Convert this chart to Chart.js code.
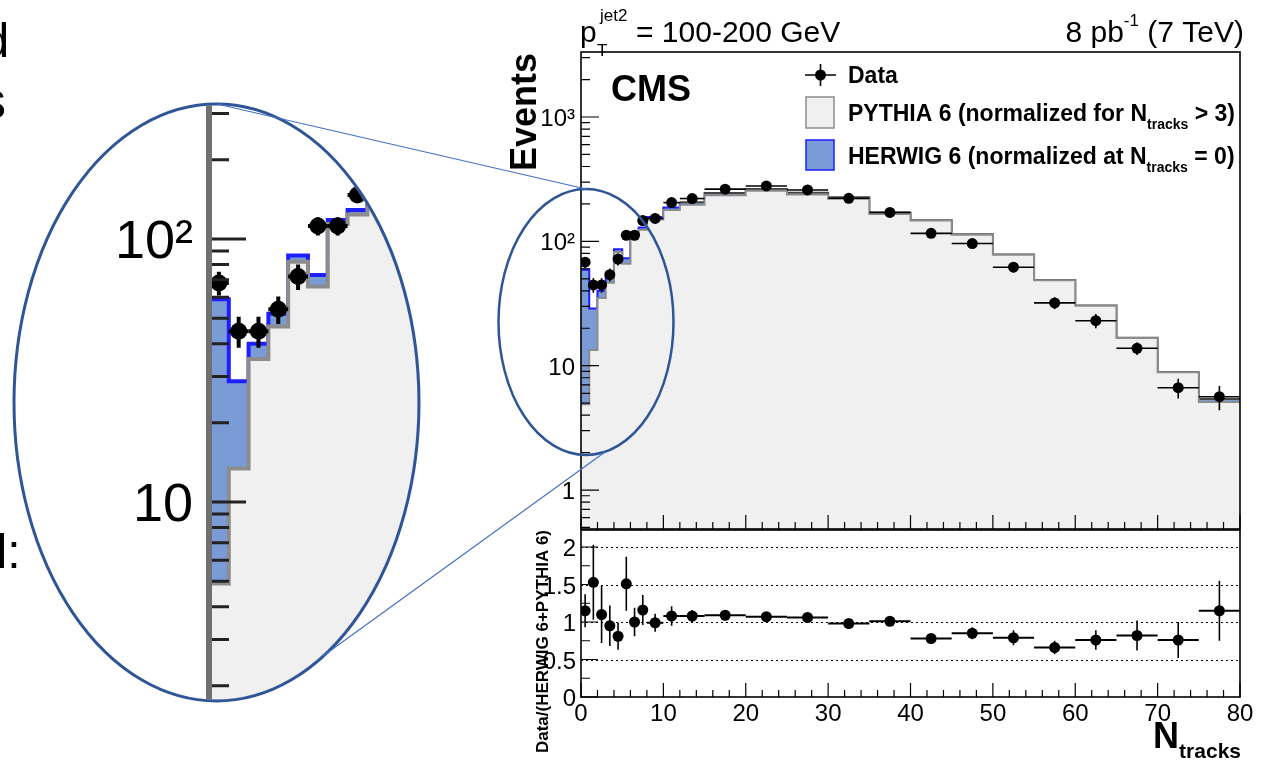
<!DOCTYPE html>
<html>
<head>
<meta charset="utf-8">
<title>N tracks, pT jet2 100-200 GeV</title>
<script src="https://cdn.jsdelivr.net/npm/chart.js@4.4.1/dist/chart.umd.min.js"></script>
<style>
  html, body { margin:0; padding:0; background:#fff; }
  #page { position:relative; width:1263px; height:763px; overflow:hidden; }
  #page canvas { position:absolute; left:0; top:0; }
</style>
</head>
<body>
<div id="page">
  <canvas id="inset" width="1263" height="763"></canvas>
  <canvas id="upper" width="1263" height="763"></canvas>
  <canvas id="lower" width="1263" height="763"></canvas>
</div>
<script>
// bin edges of the N_tracks histogram (variable width bins)
const binEdges = [0,1,2,3,4,5,6,7,8,10,12,15,20,25,30,35,40,45,50,55,60,65,70,75,80];

// data, events per bin, and its error
const dataEvents = [68,44.6,44.6,54,72,112,112,147,153,205,221,263,279,259,222,171,116,96,62,32,23,13.8,6.65,5.63];
const dataErr    = [7,6,6,6.5,8,9,9,10,10,12,12,10,10,10,10,9,8,7,5.5,3.5,3,1.6,1.2,1.25];

// HERWIG 6 + PYTHIA 6 stacked total, and PYTHIA 6 alone
const mcTotal    = [59,28.8,40,52,86.5,73,118,129,157,187,206,245,264,246,226,170,148,114,78.5,49,30.5,16.8,8.9,5.4];
const pythiaOnly = [4.9,13.4,35,46.5,82,66,114,124,150,179,197,235,255,238,220,166,147,113,78,48.7,30.3,16.7,8.85,5.1];

// Data/(HERWIG 6+PYTHIA 6)
const ratioVals = [1.15,1.53,1.10,0.95,0.81,1.51,1.00,1.16,0.99,1.08,1.08,1.09,1.07,1.06,0.98,1.01,0.78,0.85,0.79,0.66,0.76,0.82,0.76,1.15];
const ratioErr  = [0.22,0.5,0.38,0.27,0.18,0.36,0.19,0.2,0.12,0.13,0.08,0.04,0.03,0.03,0.04,0.04,0.06,0.08,0.1,0.09,0.13,0.2,0.24,0.4];

// tick labels
const xTickVals    = [0,10,20,30,40,50,60,70,80];
const upperYTicks  = [1,10,100,1000];
const upperYLabels = ['1','10','10²','10³'];
const insetYTicks  = [10,100];
const insetYLabels = ['10','10²'];
const ratioYTicks  = [0,0.5,1,1.5,2];
const ratioYLabels = ['0','0.5','1','1.5','2'];

// magnifier ellipses (page pixels)
const lensBig   = {cx:216.5, cy:402.5, rx:202.5, ry:298.5};
const lensSmall = {cx:586, cy:322, rx:87.5, ry:133};

const FONT = '"Liberation Sans", Arial, Helvetica, sans-serif';
const fnt = (size, bold) => (bold ? 'bold ' : '') + size + 'px ' + FONT;

const centres = binEdges.slice(0, -1).map((e, i) => (e + binEdges[i + 1]) / 2);
const stepData = vals => vals.map((v, i) => ({x: binEdges[i], y: v}))
  .concat([{x: binEdges[binEdges.length - 1], y: vals[vals.length - 1]}]);
const pointData = vals => vals.map((v, i) => ({x: centres[i], y: v}));

function logMinor(min, max) {
  const out = [];
  for (let e = -1; e <= 4; e++) {
    for (let m = 2; m <= 9; m++) {
      const v = m * Math.pow(10, e);
      if (v > min && v < max) out.push(v);
    }
  }
  return out;
}

// text with sub/superscript pieces: [text, size, bold, dy]
function rich(ctx, parts, x, y, align) {
  let w = 0;
  parts.forEach(p => { ctx.font = fnt(p[1], p[2]); w += ctx.measureText(p[0]).width; });
  let cx = align === 'right' ? x - w : x;
  ctx.textAlign = 'left';
  ctx.textBaseline = 'alphabetic';
  parts.forEach(p => {
    ctx.font = fnt(p[1], p[2]);
    ctx.fillText(p[0], cx, y + (p[3] || 0));
    cx += ctx.measureText(p[0]).width;
  });
}

function ellipsePath(ctx, e, off) {
  ctx.beginPath();
  ctx.ellipse(e.cx, e.cy, e.rx + off, e.ry + off, 0, 0, Math.PI * 2);
}

function drawErrorBars(chart, hW, vW) {
  const {ctx, chartArea: a, scales: {x, y}} = chart;
  chart.data.datasets.forEach(ds => {
    if (!ds.errY) return;
    ctx.save();
    ctx.beginPath();
    ctx.rect(a.left, a.top, a.right - a.left, a.bottom - a.top);
    ctx.clip();
    ctx.strokeStyle = '#000';
    ds.data.forEach((p, i) => {
      const px = x.getPixelForValue(p.x), py = y.getPixelForValue(p.y);
      ctx.lineWidth = hW;
      ctx.beginPath();
      ctx.moveTo(x.getPixelForValue(binEdges[i]), py);
      ctx.lineTo(x.getPixelForValue(binEdges[i + 1]), py);
      ctx.stroke();
      ctx.lineWidth = vW;
      ctx.beginPath();
      ctx.moveTo(px, y.getPixelForValue(p.y + ds.errY[i]));
      ctx.lineTo(px, y.getPixelForValue(Math.max(p.y - ds.errY[i], 0.001)));
      ctx.stroke();
    });
    ctx.restore();
  });
}

function histDatasets(lw, radius) {
  return [
    {type: 'scatter', label: 'Data', data: pointData(dataEvents), errY: dataErr,
     pointRadius: radius, pointBackgroundColor: '#000', pointBorderWidth: 0, order: 0},
    {type: 'line', label: 'PYTHIA 6', data: stepData(pythiaOnly), stepped: true,
     borderColor: '#8c8c8c', borderWidth: lw, backgroundColor: '#f0f0f0', fill: 'start',
     pointRadius: 0, order: 1},
    {type: 'line', label: 'HERWIG 6', data: stepData(mcTotal), stepped: true,
     borderColor: '#1e1eff', borderWidth: lw, backgroundColor: '#7b9bd6', fill: 'start',
     segment: {borderColor: c => binEdges[c.p0DataIndex] >= 12 ? '#444' : '#1e1eff'},
     pointRadius: 0, order: 2}
  ];
}

function baseOptions(pad, xr, yScale) {
  return {
    responsive: false, animation: false, events: [],
    layout: {padding: pad},
    plugins: {legend: {display: false}, tooltip: {enabled: false}},
    scales: {
      x: {type: 'linear', min: xr[0], max: xr[1], bounds: 'data', display: false},
      y: Object.assign({display: false, bounds: 'data'}, yScale)
    }
  };
}

// ---------- upper panel ----------
const upperDeco = {
  id: 'upperDeco',
  afterDatasetsDraw(chart) { drawErrorBars(chart, 1.6, 1.6); },
  afterDraw(chart) {
    const {ctx, chartArea: a, scales: {x, y}} = chart;
    ctx.save();
    ctx.strokeStyle = '#000';
    ctx.lineWidth = 1.2;
    ctx.beginPath();
    for (let v = 0; v <= 80; v += 2) {
      const px = x.getPixelForValue(v), len = v % 10 === 0 ? 14 : 7;
      ctx.moveTo(px, a.bottom); ctx.lineTo(px, a.bottom - len);
    }
    logMinor(y.min, y.max).forEach(v => {
      const py = y.getPixelForValue(v);
      ctx.moveTo(a.left, py); ctx.lineTo(a.left + 9, py);
    });
    upperYTicks.forEach(v => {
      const py = y.getPixelForValue(v);
      ctx.moveTo(a.left, py); ctx.lineTo(a.left + 18, py);
    });
    ctx.stroke();
    ctx.lineWidth = 1.6;
    ctx.strokeRect(a.left, a.top, a.right - a.left, a.bottom - a.top);

    ctx.fillStyle = '#000';
    ctx.font = fnt(24);
    ctx.textAlign = 'right';
    ctx.textBaseline = 'alphabetic';
    upperYTicks.forEach((v, i) => ctx.fillText(upperYLabels[i], a.left - 6, y.getPixelForValue(v) + 9));

    // header
    ctx.textAlign = 'left';
    ctx.font = fnt(30); ctx.fillText('p', 580, 42);
    ctx.font = fnt(17); ctx.fillText('jet2', 600, 21); ctx.fillText('T', 597, 56);
    ctx.font = fnt(30); ctx.fillText('= 100-200 GeV', 636, 42);
    rich(ctx, [['8 pb', 30, false, 0], ['-1', 17, false, -16], [' (7 TeV)', 30, false, 0]], 1244, 42, 'right');

    ctx.font = fnt(36, true); ctx.textAlign = 'left';
    ctx.fillText('CMS', 611, 101);

    // legend
    ctx.strokeStyle = '#000'; ctx.lineWidth = 1.6;
    ctx.beginPath();
    ctx.moveTo(805, 75); ctx.lineTo(836, 75);
    ctx.moveTo(820.5, 64); ctx.lineTo(820.5, 86);
    ctx.stroke();
    ctx.beginPath(); ctx.arc(820.5, 75, 5.5, 0, Math.PI * 2); ctx.fill();
    ctx.font = fnt(23, true); ctx.fillText('Data', 848, 83);
    ctx.fillStyle = '#f0f0f0'; ctx.fillRect(806, 97, 28, 31);
    ctx.strokeStyle = '#8c8c8c'; ctx.lineWidth = 1.5; ctx.strokeRect(806, 97, 28, 31);
    ctx.fillStyle = '#7b9bd6'; ctx.fillRect(806, 140, 28, 30);
    ctx.strokeStyle = '#1e1eff'; ctx.strokeRect(806, 140, 28, 30);
    ctx.fillStyle = '#000';
    rich(ctx, [['PYTHIA 6 (normalized for N', 23, true, 0], ['tracks', 14, true, 8], [' > 3)', 23, true, 0]], 848, 121);
    rich(ctx, [['HERWIG 6 (normalized at N', 23, true, 0], ['tracks', 14, true, 8], [' = 0)', 23, true, 0]], 848, 164);

    // y title
    ctx.save();
    ctx.translate(536, 53);
    ctx.rotate(-Math.PI / 2);
    ctx.font = fnt(36, true); ctx.textAlign = 'right';
    ctx.fillText('Events', 0, 0);
    ctx.restore();

    // cropped slide text at the left edge
    ctx.textAlign = 'left';
    ctx.font = fnt(48); ctx.fillText('d', -17.5, 57);
    ctx.font = fnt(52); ctx.fillText('s', -20, 118);
    ctx.font = fnt(48); ctx.fillText('l:', -3.5, 568);

    // magnifier: small ellipse and connectors
    ctx.strokeStyle = '#2f5597'; ctx.lineWidth = 2.5;
    ellipsePath(ctx, lensSmall, 0); ctx.stroke();
    ctx.strokeStyle = '#4472c4'; ctx.lineWidth = 1.2;
    ctx.beginPath();
    ctx.moveTo(217, 104); ctx.lineTo(586, 189);
    ctx.moveTo(323, 656); ctx.lineTo(605, 452);
    ctx.stroke();
    ctx.restore();
  }
};

new Chart(document.getElementById('upper'), {
  type: 'scatter',
  data: {datasets: histDatasets(2, 5.5)},
  options: baseOptions({left: 581, right: 23, top: 52, bottom: 234}, [0, 80],
    {type: 'logarithmic', min: 0.486, max: 3334}),
  plugins: [upperDeco]
});

// ---------- ratio panel ----------
const lowerDeco = {
  id: 'lowerDeco',
  beforeDatasetsDraw(chart) {
    const {ctx, chartArea: a, scales: {y}} = chart;
    ctx.save();
    ctx.strokeStyle = '#000'; ctx.lineWidth = 1; ctx.setLineDash([2, 3]);
    ctx.beginPath();
    ratioYTicks.slice(1).forEach(v => {
      const py = Math.round(y.getPixelForValue(v)) + 0.5;
      ctx.moveTo(a.left, py); ctx.lineTo(a.right, py);
    });
    ctx.stroke();
    ctx.restore();
  },
  afterDatasetsDraw(chart) { drawErrorBars(chart, 2, 1.6); },
  afterDraw(chart) {
    const {ctx, chartArea: a, scales: {x, y}} = chart;
    ctx.save();
    ctx.strokeStyle = '#000'; ctx.lineWidth = 1.2;
    ctx.beginPath();
    for (let v = 0; v <= 80; v += 2) {
      const px = x.getPixelForValue(v), len = v % 10 === 0 ? 14 : 7;
      ctx.moveTo(px, a.bottom); ctx.lineTo(px, a.bottom - len);
    }
    for (let v = 0; v <= 2.2; v += 0.25) {
      const py = y.getPixelForValue(v), len = Math.abs(v * 2 - Math.round(v * 2)) < 1e-6 ? 17 : 9;
      ctx.moveTo(a.left, py); ctx.lineTo(a.left + len, py);
    }
    ctx.stroke();
    ctx.lineWidth = 1.6;
    ctx.strokeRect(a.left, a.top, a.right - a.left, a.bottom - a.top);

    ctx.fillStyle = '#000';
    ctx.font = fnt(24);
    ctx.textAlign = 'right';
    ratioYTicks.forEach((v, i) => ctx.fillText(ratioYLabels[i], a.left - 5, y.getPixelForValue(v) + 9));
    ctx.textAlign = 'center';
    xTickVals.forEach(v => ctx.fillText(String(v), x.getPixelForValue(v), 721));

    rich(ctx, [['N', 36, true, 0], ['tracks', 21, true, 10]], 1241, 748, 'right');

    ctx.save();
    ctx.translate(548, 530);
    ctx.rotate(-Math.PI / 2);
    ctx.font = fnt(17, true); ctx.textAlign = 'right';
    ctx.fillText('Data/(HERWIG 6+PYTHIA 6)', 0, 0);
    ctx.restore();
    ctx.restore();
  }
};

new Chart(document.getElementById('lower'), {
  type: 'scatter',
  data: {datasets: [{
    label: 'Data/(HERWIG 6+PYTHIA 6)', data: pointData(ratioVals), errY: ratioErr,
    pointRadius: 5.5, pointBackgroundColor: '#000', pointBorderWidth: 0
  }]},
  options: baseOptions({left: 581, right: 23, top: 530, bottom: 66}, [0, 80],
    {type: 'linear', min: 0, max: 2.227}),
  plugins: [lowerDeco]
});

// ---------- magnified inset ----------
const insetDeco = {
  id: 'insetDeco',
  beforeDatasetsDraw(chart) {
    const ctx = chart.ctx;
    ctx.save();
    ellipsePath(ctx, lensBig, -1.5);
    ctx.clip();
  },
  afterDatasetsDraw(chart) {
    const {ctx, chartArea: a, scales: {y}} = chart;
    drawErrorBars(chart, 4, 4);
    ctx.strokeStyle = '#222'; ctx.lineWidth = 3;
    ctx.beginPath();
    logMinor(y.min, y.max).forEach(v => {
      const py = y.getPixelForValue(v);
      ctx.moveTo(a.left, py); ctx.lineTo(a.left + 20, py);
    });
    insetYTicks.forEach(v => {
      const py = y.getPixelForValue(v);
      ctx.moveTo(a.left, py); ctx.lineTo(a.left + 37, py);
    });
    ctx.stroke();
    ctx.strokeStyle = '#707070'; ctx.lineWidth = 6;
    ctx.beginPath(); ctx.moveTo(a.left, a.top); ctx.lineTo(a.left, a.bottom); ctx.stroke();
    ctx.restore();

    ctx.save();
    ctx.strokeStyle = '#2f5597'; ctx.lineWidth = 3;
    ellipsePath(ctx, lensBig, 0); ctx.stroke();
    ctx.fillStyle = '#000'; ctx.font = fnt(54); ctx.textAlign = 'right';
    insetYTicks.forEach((v, i) => ctx.fillText(insetYLabels[i], 193, y.getPixelForValue(v) + 19));
    ctx.restore();
  }
};

new Chart(document.getElementById('inset'), {
  type: 'scatter',
  data: {datasets: histDatasets(4, 8.5)},
  options: baseOptions({left: 209, right: 843, top: 104, bottom: 62}, [0, 10.66],
    {type: 'logarithmic', min: 1.751, max: 326}),
  plugins: [insetDeco]
});
</script>
</body>
</html>
